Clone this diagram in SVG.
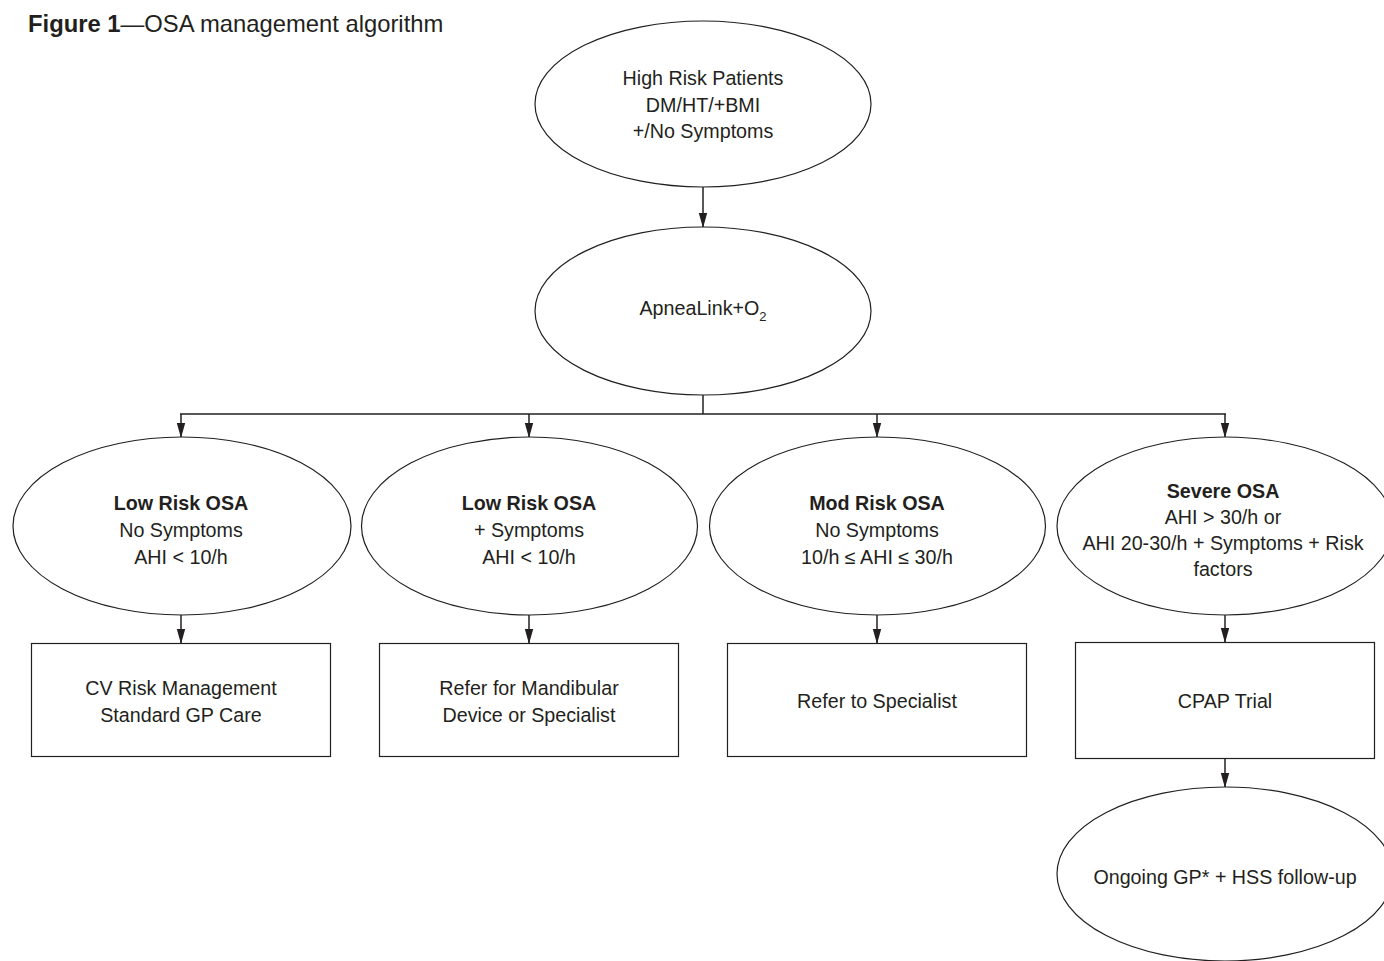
<svg xmlns="http://www.w3.org/2000/svg" width="1384" height="961" viewBox="0 0 1384 961">
<defs>
<style>
.t{font-family:"Liberation Sans",Arial,sans-serif;font-size:19.7px;fill:#231f20;text-anchor:middle}
.b{font-weight:bold}
.shape{fill:#fff;stroke:#231f20;stroke-width:1.2}
.conn{stroke:#231f20;stroke-width:1.5;fill:none}
</style>
<marker id="ah" viewBox="0 0 15 10" refX="15" refY="5" markerWidth="15" markerHeight="10" markerUnits="userSpaceOnUse" orient="auto">
<path d="M0,0.8 L15,5 L0,9.2 Z" fill="#231f20"/>
</marker>
</defs>
<rect width="1384" height="961" fill="#fff"/>
<text x="28" y="32" style="font-family:'Liberation Sans',Arial,sans-serif;font-size:23.8px;fill:#231f20"><tspan font-weight="bold">Figure 1</tspan>—OSA management algorithm</text>

<g id="connectors">
<line class="conn" x1="703" y1="187" x2="703" y2="228" marker-end="url(#ah)"/>
<line class="conn" x1="703" y1="395" x2="703" y2="414"/>
<line class="conn" x1="180" y1="414" x2="1226" y2="414"/>
<line class="conn" x1="181" y1="414" x2="181" y2="438" marker-end="url(#ah)"/>
<line class="conn" x1="529" y1="414" x2="529" y2="438" marker-end="url(#ah)"/>
<line class="conn" x1="877" y1="414" x2="877" y2="438" marker-end="url(#ah)"/>
<line class="conn" x1="1225" y1="414" x2="1225" y2="438" marker-end="url(#ah)"/>
<line class="conn" x1="181" y1="615" x2="181" y2="644" marker-end="url(#ah)"/>
<line class="conn" x1="529" y1="615" x2="529" y2="644" marker-end="url(#ah)"/>
<line class="conn" x1="877" y1="615" x2="877" y2="644" marker-end="url(#ah)"/>
<line class="conn" x1="1225" y1="615" x2="1225" y2="643" marker-end="url(#ah)"/>
<line class="conn" x1="1225" y1="758" x2="1225" y2="788" marker-end="url(#ah)"/>
</g>

<g id="n-high-risk">
<ellipse class="shape" cx="703" cy="104" rx="168" ry="83"/>
<text class="t" x="703" y="85">High Risk Patients</text>
<text class="t" x="703" y="112">DM/HT/+BMI</text>
<text class="t" x="703" y="138">+/No Symptoms</text>
</g>

<g id="n-apnealink">
<ellipse class="shape" cx="703" cy="311" rx="168" ry="84"/>
<text class="t" x="703" y="315">ApneaLink+O<tspan font-size="13" dy="6">2</tspan></text>
</g>

<g id="n-low1">
<ellipse class="shape" cx="182" cy="526" rx="169" ry="89"/>
<text class="t b" x="181" y="510">Low Risk OSA</text>
<text class="t" x="181" y="537">No Symptoms</text>
<text class="t" x="181" y="564">AHI &lt; 10/h</text>
</g>

<g id="n-low2">
<ellipse class="shape" cx="529.5" cy="526" rx="168" ry="89"/>
<text class="t b" x="529" y="510">Low Risk OSA</text>
<text class="t" x="529" y="537">+ Symptoms</text>
<text class="t" x="529" y="564">AHI &lt; 10/h</text>
</g>

<g id="n-mod">
<ellipse class="shape" cx="877.5" cy="526" rx="168" ry="89"/>
<text class="t b" x="877" y="510">Mod Risk OSA</text>
<text class="t" x="877" y="537">No Symptoms</text>
<text class="t" x="877" y="564">10/h ≤ AHI ≤ 30/h</text>
</g>

<g id="n-severe">
<ellipse class="shape" cx="1225" cy="526" rx="168" ry="89"/>
<text class="t b" x="1223" y="498">Severe OSA</text>
<text class="t" x="1223" y="524">AHI &gt; 30/h or</text>
<text class="t" x="1223" y="550">AHI 20-30/h + Symptoms + Risk</text>
<text class="t" x="1223" y="576">factors</text>
</g>

<g id="n-cv">
<rect class="shape" x="31.5" y="643.5" width="299" height="113"/>
<text class="t" x="181" y="695">CV Risk Management</text>
<text class="t" x="181" y="722">Standard GP Care</text>
</g>

<g id="n-mandibular">
<rect class="shape" x="379.5" y="643.5" width="299" height="113"/>
<text class="t" x="529" y="695">Refer for Mandibular</text>
<text class="t" x="529" y="722">Device or Specialist</text>
</g>

<g id="n-specialist">
<rect class="shape" x="727.5" y="643.5" width="299" height="113"/>
<text class="t" x="877" y="708">Refer to Specialist</text>
</g>

<g id="n-cpap">
<rect class="shape" x="1075.5" y="642.5" width="299" height="116"/>
<text class="t" x="1225" y="708">CPAP Trial</text>
</g>

<g id="n-followup">
<ellipse class="shape" cx="1225" cy="874" rx="168" ry="87"/>
<text class="t" x="1225" y="884">Ongoing GP* + HSS follow-up</text>
</g>
</svg>
